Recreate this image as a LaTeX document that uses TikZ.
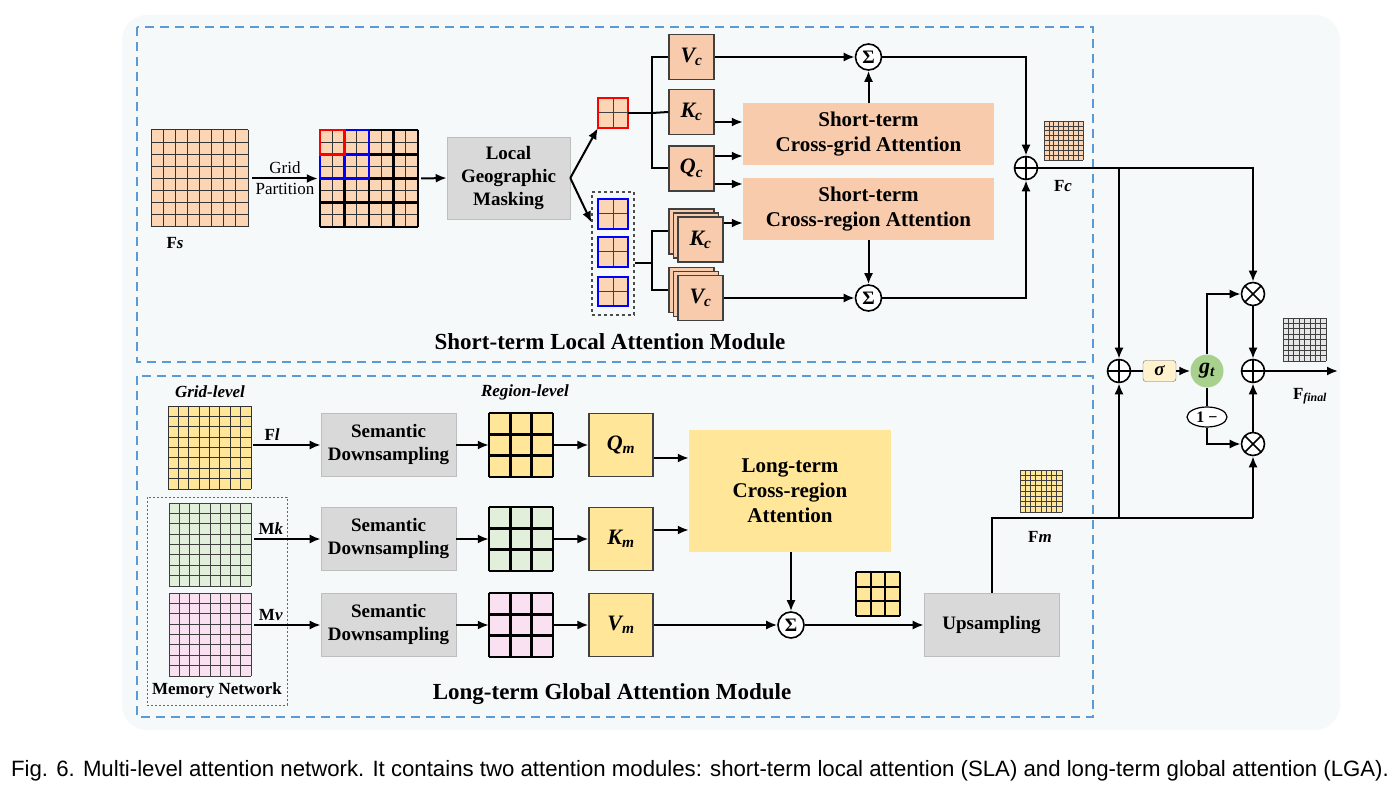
\documentclass[tikz,border=0pt]{standalone}
\usepackage{fontspec}
\setmainfont{Liberation Serif}
\newfontfamily\capfont{Liberation Sans}
\usetikzlibrary{arrows.meta,fit,calc,shapes.geometric}
\definecolor{bgc}{RGB}{245,249,250}
\definecolor{dashblue}{RGB}{91,155,213}
\definecolor{cellpeach}{RGB}{252,213,180}
\definecolor{boxpeach}{RGB}{248,203,173}
\definecolor{gboxc}{RGB}{217,217,217}
\definecolor{gboxb}{RGB}{190,190,190}
\definecolor{yel}{RGB}{255,230,153}
\definecolor{grn}{RGB}{226,239,218}
\definecolor{pnk}{RGB}{249,225,241}
\definecolor{sigc}{RGB}{255,242,204}
\definecolor{gtc}{RGB}{169,209,142}
\definecolor{finc}{RGB}{231,230,230}
\newcommand{\fgrid}[9]{%
  \node[fit={(#2,#3)(#4,#5)}, inner sep=0pt, fill=#7] (#1) {};
  \foreach \i in {0,...,#6}{
    \draw[#8, line width=#9] ({#2+(#4-#2)*\i/#6},#3) -- ({#2+(#4-#2)*\i/#6},#5);
    \draw[#8, line width=#9] (#2,{#3+(#5-#3)*\i/#6}) -- (#4,{#3+(#5-#3)*\i/#6});
  }}
\tikzset{
  ln/.style={line width=2pt, draw=black},
  arr/.style={ln, -{Latex[length=11pt,width=9pt]}},
  lbl/.style={font=\fontsize{19}{23}\selectfont\bfseries, align=center},
  gbox/.style={lbl, fill=gboxc, draw=gboxb, line width=0.6pt, inner sep=0pt},
  qkv/.style={font=\fontsize{22}{24}\selectfont\bfseries\itshape, fill=boxpeach, draw=black!75, line width=1.2pt, minimum width=45pt, minimum height=45pt, inner sep=0pt},
  qkvy/.style={font=\fontsize{22}{24}\selectfont\bfseries\itshape, fill=yel, draw=black!75, line width=1.2pt, minimum width=64pt, minimum height=63pt, inner sep=0pt},
  att/.style={font=\fontsize{21}{25}\selectfont\bfseries, align=center, fill=boxpeach, minimum width=251pt, minimum height=62pt, inner sep=0pt},
  sumn/.style={circle, draw, fill=white, line width=1.6pt, minimum size=26pt, inner sep=0pt, font=\fontsize{19}{19}\selectfont\bfseries},
  opl/.style={circle, draw, fill=white, line width=1.6pt, minimum size=23pt, inner sep=0pt,
    path picture={\draw[line width=1.6pt] (path picture bounding box.north) -- (path picture bounding box.south) (path picture bounding box.west) -- (path picture bounding box.east);}},
  otm/.style={circle, draw, fill=white, line width=1.6pt, minimum size=23pt, inner sep=0pt,
    path picture={\draw[line width=1.6pt] ([shift={(-8.2,-8.2)}]path picture bounding box.center) -- ([shift={(8.2,8.2)}]path picture bounding box.center) ([shift={(-8.2,8.2)}]path picture bounding box.center) -- ([shift={(8.2,-8.2)}]path picture bounding box.center);}},
  smalllbl/.style={font=\fontsize{17}{19}\selectfont\bfseries},
  modtitle/.style={font=\fontsize{23}{26}\selectfont\bfseries},
}
\begin{document}
\begin{tikzpicture}[x=1pt,y=-1pt]
\useasboundingbox (0,0) rectangle (1400,791);
\fill[white] (0,0) rectangle (1400,791);
\fill[bgc, rounded corners=25pt] (122,15) rectangle (1340,730);
\draw[dashblue, line width=1.4pt, dash pattern=on 9pt off 6pt] (137,27) rectangle (1093,362);
\draw[dashblue, line width=1.4pt, dash pattern=on 9pt off 6pt] (137,376) rectangle (1093,717);

% ---------- Short-term module ----------
\fgrid{fs}{151}{130}{248}{227}{8}{cellpeach}{black!80}{1pt}
\node[smalllbl] (fslbl) at (175,243) {F\textit{s}};
\fgrid{pg}{320}{130}{418}{227}{8}{cellpeach}{black!80}{0.9pt}
\foreach \i in {0,...,4}{
  \draw[black, line width=2.6pt] ({320+98*\i/4},130) -- ({320+98*\i/4},227);
  \draw[black, line width=2.6pt] (320,{130+97*\i/4}) -- (418,{130+97*\i/4});
}
\draw[blue, line width=2.6pt] (344.5,130) rectangle (369,154.25);
\draw[blue, line width=2.6pt] (320,154.25) rectangle (344.5,178.5);
\draw[blue, line width=2.6pt] (344.5,154.25) rectangle (369,178.5);
\draw[red, line width=2.6pt] (320,130) rectangle (344.5,154.25);
\draw[arr] ([xshift=4pt]fs.east) -- node[above, font=\fontsize{17}{19}\selectfont] {Grid} node[below, font=\fontsize{17}{19}\selectfont] {Partition} ([xshift=-2pt]pg.west);

\node[gbox, minimum width=123pt, minimum height=82pt] (lgm) at (508.5,178) {Local\\Geographic\\Masking};
\draw[arr] ([xshift=3pt]pg.east) -- (lgm.west);

\fgrid{rg}{598}{98}{628}{128}{2}{cellpeach}{black!75}{1pt}
\draw[red, line width=2pt] (598,98) rectangle (628,128);
\node[draw=black!70, dashed, line width=1.1pt, fit={(592,192)(634,315)}, inner sep=0pt] (grp) {};
\fgrid{b1}{598}{199}{628}{229}{2}{cellpeach}{black!75}{1pt}
\fgrid{b2}{598}{237}{628}{267}{2}{cellpeach}{black!75}{1pt}
\fgrid{b3}{598}{277}{628}{306}{2}{cellpeach}{black!75}{1pt}
\foreach \b in {b1,b2,b3}{\draw[blue, line width=2pt] (\b.north west) rectangle (\b.south east);}
\draw[arr] (lgm.east) -- (rg.south west);
\draw[arr] (lgm.east) -- ($(grp.north west)!0.25!(grp.south west)$);

\node[qkv] (vc) at (691.5,57) {V\textsubscript{c}};
\node[qkv] (kc) at (691.5,112) {K\textsubscript{c}};
\node[qkv] (qc) at (691.5,168.5) {Q\textsubscript{c}};
\coordinate (j1) at (652,113);
\draw[ln] (rg.east) -- (j1);
\draw[ln] (vc.west) -| (j1) |- (qc.west);
\draw[ln] (j1) -- (kc.west);

\node[qkv] (skb) at (691.5,231.5) {};
\node[qkv] (skm) at (696,235.5) {};
\node[qkv] (sk) at (700.5,239.5) {K\textsubscript{c}};
\node[qkv] (svb) at (691.5,290) {};
\node[qkv] (svm) at (696,294) {};
\node[qkv] (sv) at (700.5,298) {V\textsubscript{c}};
\coordinate (j2) at (652,263);
\draw[ln] (grp.east |- j2) -- (j2);
\draw[ln] (skb.west) -| (j2) |- (svb.west);

\node[att] (cg) at (868.5,134) {Short-term\\Cross-grid Attention};
\node[att] (cr) at (868.5,209) {Short-term\\Cross-region Attention};
\draw[arr] (kc.east |- 0,122) -- (cg.west |- 0,122);
\draw[arr] (qc.east |- 0,156) -- (cg.west |- 0,156);
\draw[arr] (qc.east |- 0,184) -- (cr.west |- 0,184);
\draw[arr] (sk.east |- 0,223) -- (cr.west |- 0,223);

\node[sumn] (s1) at (868.5,57) {Σ};
\node[sumn] (s2) at (868.5,298) {Σ};
\draw[arr] (vc.east) -- (s1.west);
\draw[arr] (cg.north) -- (s1.south);
\draw[arr] (cr.south) -- (s2.north);
\draw[arr] (sv.east) -- (s2.west);

\node[opl] (p1) at (1026,168) {};
\draw[arr] (s1.east) -| (p1.north);
\draw[arr] (s2.east) -| (p1.south);
\fgrid{fc}{1044}{121}{1083}{160}{8}{cellpeach}{black!75}{0.7pt}
\node[smalllbl] (fclbl) at (1063,186) {F\textit{c}};
\node[modtitle] (t1) at (610,342) {Short-term Local Attention Module};

% ---------- Gate ----------
\node[opl] (p2) at (1119,371) {};
\node[draw=black!60, fill=sigc, rounded corners=3pt, minimum width=33pt, minimum height=21pt, inner sep=0pt, font=\fontsize{19}{20}\selectfont\bfseries\itshape] (sig) at (1159.5,371) {σ};
\node[circle, fill=gtc, minimum size=33pt, inner sep=0pt, font=\fontsize{22}{24}\selectfont\bfseries\itshape] (gt) at (1207,371) {g\textsubscript{t}};
\node[otm] (x1) at (1253,294) {};
\node[opl] (p3) at (1253,371) {};
\node[otm] (x2) at (1253,444) {};
\node[ellipse, draw, fill=white, line width=1.2pt, minimum width=40pt, minimum height=20pt, inner sep=0pt, font=\fontsize{16}{16}\selectfont\bfseries] (om) at (1207,417) {1 −};
\coordinate (j3) at (1119,168);
\coordinate (out) at (1338,371);
\draw[arr] (p1.east) -| (x1.north);
\draw[arr] (j3) -- (p2.north);
\draw[ln] (p2.east) -- (sig.west);
\draw[arr] (sig.east) -- (gt.west);
\draw[arr] (gt.north) |- (x1.west);
\draw[arr] (x1.south) -- (p3.north);
\draw[arr] (p3.east) -- (out);
\draw[ln] (gt.south) -- (om.north);
\draw[arr] (om.south) |- (x2.west);
\draw[arr] (x2.north) -- (p3.south);
\fgrid{fin}{1283}{318}{1326}{361}{8}{finc}{black!75}{0.7pt}
\node[font=\fontsize{17}{19}\selectfont\bfseries] (finlbl) at (1310,396) {F\textsubscript{\textit{final}}};

% ---------- Long-term module ----------
\node[font=\fontsize{17}{19}\selectfont\bfseries\itshape] (gl) at (210,392) {Grid-level};
\node[font=\fontsize{17}{19}\selectfont\bfseries\itshape] (rl) at (525,392) {Region-level};
\fgrid{fl}{168}{406}{251}{489}{8}{yel}{black!80}{1pt}
\node[draw=black!60, line width=1pt, dash pattern=on 2pt off 2pt, fit={(147,497)(287,705)}, inner sep=0pt] (mn) {};
\fgrid{mk}{169}{503}{251}{586}{8}{grn}{black!75}{1pt}
\fgrid{mv}{169}{593}{251}{676}{8}{pnk}{black!75}{1pt}
\node[smalllbl] (mnlbl) at (217,690) {Memory Network};

\node[gbox, minimum width=135pt, minimum height=63pt] (sd1) at (388.5,445) {Semantic\\Downsampling};
\node[gbox, minimum width=135pt, minimum height=63pt] (sd2) at (388.5,539) {Semantic\\Downsampling};
\node[gbox, minimum width=135pt, minimum height=63pt] (sd3) at (388.5,625) {Semantic\\Downsampling};
\draw[arr] ([xshift=2pt]fl.east |- sd1.west) -- node[above, smalllbl, pos=0.28] {F\textit{l}} (sd1.west);
\draw[arr] ([xshift=3pt]mk.east |- sd2.west) -- node[above, smalllbl, pos=0.25] {M\textit{k}} (sd2.west);
\draw[arr] ([xshift=3pt]mv.east |- sd3.west) -- node[above, smalllbl, pos=0.25] {M\textit{v}} (sd3.west);

\fgrid{r1}{489}{413}{553}{477}{3}{yel}{black}{2.4pt}
\fgrid{r2}{489}{507}{553}{571}{3}{grn}{black}{2.4pt}
\fgrid{r3}{489}{593}{553}{657}{3}{pnk}{black}{2.4pt}
\draw[arr] (sd1.east) -- (r1.west);
\draw[arr] (sd2.east) -- (r2.west);
\draw[arr] (sd3.east) -- (r3.west);

\node[qkvy] (qm) at (621,445) {Q\textsubscript{m}};
\node[qkvy] (km) at (621,539) {K\textsubscript{m}};
\node[qkvy] (vm) at (621,625) {V\textsubscript{m}};
\draw[arr] (r1.east) -- (qm.west);
\draw[arr] (r2.east) -- (km.west);
\draw[arr] (r3.east) -- (vm.west);

\node[fill=yel, minimum width=202pt, minimum height=122pt, inner sep=0pt, align=center, font=\fontsize{21}{25}\selectfont\bfseries] (lt) at (790,491) {Long-term\\Cross-region\\Attention};
\draw[arr] (qm.east |- 0,458) -- (lt.west |- 0,458);
\draw[arr] (km.east |- 0,530) -- (lt.west |- 0,530);

\node[sumn] (s3) at (791,625) {Σ};
\draw[arr] (vm.east) -- (s3.west);
\draw[arr] (lt.south -| s3.north) -- (s3.north);
\fgrid{sg}{856}{572}{900}{616}{3}{yel}{black}{2.2pt}
\node[gbox, minimum width=135pt, minimum height=63pt] (up) at (991.5,625) {Upsampling};
\draw[arr] (s3.east) -- (up.west);

\fgrid{fmg}{1020}{470}{1062}{512}{8}{yel}{black!75}{0.7pt}
\node[smalllbl] (fmlbl) at (1040,537) {F\textit{m}};
\coordinate (fm1) at (1119,518);
\coordinate (fm2) at (1253,518);
\draw[ln] (up.north) |- (fm2);
\draw[arr] (fm1) -- (p2.south);
\draw[arr] (fm2) -- (x2.south);

\node[modtitle] (t2) at (612,694) {Long-term Global Attention Module};

\node[font=\capfont\fontsize{22.2}{25}\selectfont] (cap) at (700,771) {Fig. 6. Multi-level attention network. It contains two attention modules: short-term local attention (SLA) and long-term global attention (LGA).};
\end{tikzpicture}
\end{document}
